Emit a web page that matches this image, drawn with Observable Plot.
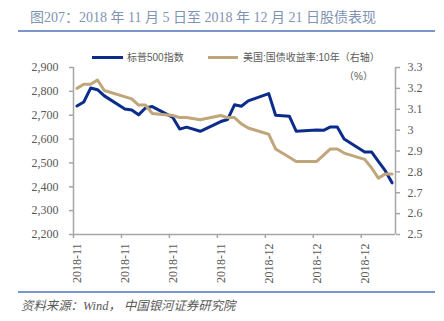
<!DOCTYPE html>
<html><head><meta charset="utf-8">
<script src="https://cdn.jsdelivr.net/npm/d3@7"></script>
<script src="https://cdn.jsdelivr.net/npm/@observablehq/plot@0.6"></script>
<style>
body{margin:0;background:#fff;}
#wrap{position:relative;width:444px;height:321px;overflow:hidden;font-family:"Liberation Serif","Noto Sans CJK SC",serif;}
#title{position:absolute;left:30px;top:10px;font-size:14px;line-height:16px;color:#8193b2;white-space:nowrap;}
.rule{position:absolute;left:18px;width:417px;height:1.5px;background:#7b96cc;}
.lg{position:absolute;font-family:"Liberation Sans","Noto Sans CJK SC",sans-serif;font-size:10px;line-height:12px;color:#595959;white-space:nowrap;}
.sw{position:absolute;height:3px;}
#chart{position:absolute;left:0;top:48px;}
#source{position:absolute;left:21px;top:298px;font-size:12.4px;line-height:16px;color:#595959;font-style:italic;white-space:nowrap;}
</style></head><body>
<div id="wrap">
<div id="title">图207：2018 年 11 月 5 日至 2018 年 12 月 21 日股债表现</div>
<div class="rule" style="top:30px"></div>
<div id="chart"></div>
<div id="legend"></div>
<div class="rule" style="top:291px"></div>
<div id="source">资料来源：Wind，&nbsp;中国银河证券研究院</div>
</div>
<script>
// Trading dates (union of both series)
const dates = ["2018-11-05","2018-11-06","2018-11-07","2018-11-08","2018-11-09",
  "2018-11-12","2018-11-13","2018-11-14","2018-11-15","2018-11-16",
  "2018-11-19","2018-11-20","2018-11-21","2018-11-23",
  "2018-11-26","2018-11-27","2018-11-28","2018-11-29","2018-11-30",
  "2018-12-03","2018-12-04","2018-12-05","2018-12-06","2018-12-07",
  "2018-12-10","2018-12-11","2018-12-12","2018-12-13","2018-12-14",
  "2018-12-17","2018-12-18","2018-12-19","2018-12-20","2018-12-21"];
// 标普500指数
const spx = [2738.31,2755.45,2813.89,2806.83,2781.01,
  2726.22,2722.18,2701.58,2730.20,2736.27,
  2690.73,2641.89,2649.93,2632.56,
  2673.45,2682.17,2743.79,2737.80,2760.17,
  2790.37,2700.06,null,2695.95,2633.08,
  2637.72,2636.78,2651.07,2650.54,2599.95,
  2545.94,2546.16,2506.96,2467.42,2416.62];
// 美国:国债收益率:10年 (%)
const ust = [3.20,3.22,3.22,3.24,3.19,
  null,3.15,3.12,3.12,3.08,
  3.07,3.06,3.06,3.05,
  3.07,3.06,3.06,3.03,3.01,
  2.98,2.91,null,2.87,2.85,
  2.85,2.88,2.91,2.91,2.89,
  2.86,2.82,2.77,2.79,2.79];
const leftTicks = [2200,2300,2400,2500,2600,2700,2800,2900];
const rightTicks = [2.5,2.6,2.7,2.8,2.9,3.0,3.1,3.2,3.3];
const xTickDates = ["2018-11-05","2018-11-12","2018-11-19","2018-11-26","2018-12-03","2018-12-10","2018-12-17"];
const xDomain = ["2018-11-05","2018-12-22"];
const seriesNames = ["标普500指数","美国:国债收益率:10年（右轴）"];
const unitLabel = "（%）";
const colors = ["#0c2c8c","#c1a57b"];

const parse = d3.utcParse("%Y-%m-%d");
const leftMin = 2200, leftMax = 2900, rightMin = 2.5, rightMax = 3.3;
const k = (leftMax - leftMin) / (rightMax - rightMin);
const toLeft = v => leftMin + (v - rightMin) * k;
const fromLeft = d => +((d - leftMin) / k + rightMin).toFixed(1);

const rows = dates.map((d, i) => ({date: d3.utcHour.offset(parse(d), 12), spx: spx[i], ust: ust[i]}));
const mondays = xTickDates.map(parse);
const axisColor = "#a6a6a6";
const textColor = "#595959";

const chart = Plot.plot({
  width: 444, height: 243,
  marginTop: 19, marginBottom: 57, marginLeft: 73, marginRight: 49,
  style: {fontFamily: '"Liberation Serif", serif', fontSize: "12px", background: "transparent", overflow: "visible"},
  x: {type: "utc", domain: xDomain.map(parse)},
  y: {domain: [leftMin, leftMax]},
  marks: [
    Plot.ruleY([leftMin], {stroke: axisColor, strokeWidth: 1.5}),
    Plot.ruleX(xDomain.map(parse), {stroke: axisColor, strokeWidth: 1.5}),
    Plot.axisY({anchor: "left", ticks: leftTicks, tickFormat: d3.format(","), tickSize: 4, tickPadding: 11,
      stroke: axisColor, strokeWidth: 1.5, fill: textColor, label: null}),
    Plot.axisY({anchor: "right", ticks: rightTicks.map(toLeft), tickFormat: d => String(fromLeft(d)), tickSize: 4, tickPadding: 8,
      stroke: axisColor, strokeWidth: 1.5, fill: textColor, label: null}),
    Plot.axisX({ticks: mondays, tickSize: 4, stroke: axisColor, strokeWidth: 1.5, fill: "none", label: null}),
    Plot.axisX({ticks: mondays.map(d => d3.utcHour.offset(d, 12)), tickSize: 0, tickPadding: 9, tickRotate: -90,
      tickFormat: d3.utcFormat("%Y-%m"), fill: textColor, label: null}),
    Plot.line(rows.filter(d => d.spx != null), {x: "date", y: "spx", stroke: colors[0], strokeWidth: 3, strokeLinejoin: "round"}),
    Plot.line(rows.filter(d => d.ust != null), {x: "date", y: d => toLeft(d.ust), stroke: colors[1], strokeWidth: 3, strokeLinejoin: "round"})
  ]
});
document.getElementById("chart").appendChild(chart);

const lg = document.getElementById("legend");
lg.innerHTML =
  `<div class="sw" style="left:92px;top:56px;width:31px;background:${colors[0]}"></div>` +
  `<div class="lg" style="left:127px;top:52px">${seriesNames[0]}</div>` +
  `<div class="sw" style="left:208px;top:56px;width:30px;background:${colors[1]}"></div>` +
  `<div class="lg" style="left:243px;top:52px">${seriesNames[1]}</div>` +
  `<div class="lg" style="left:333px;top:70.5px;width:40px;text-align:right">${unitLabel}</div>`;
</script>
</body></html>
